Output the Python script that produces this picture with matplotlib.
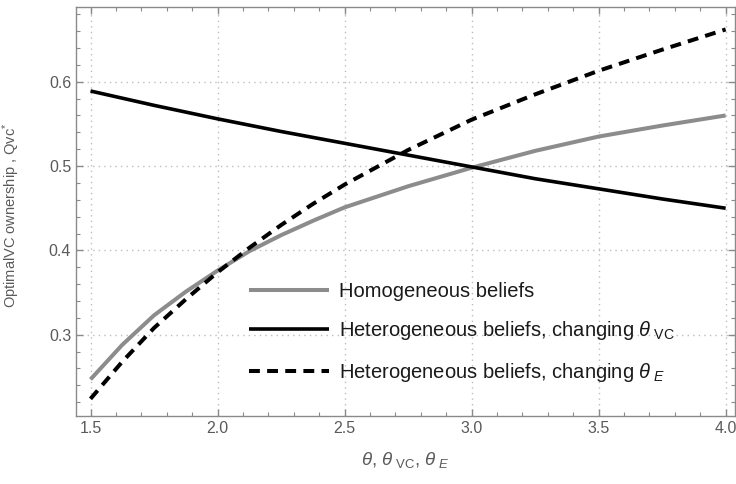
import numpy as np
import matplotlib
matplotlib.use('Agg')
import matplotlib.pyplot as plt
from matplotlib.ticker import MultipleLocator, FormatStrFormatter

plt.rcParams['font.family'] = ['Liberation Sans', 'DejaVu Sans']
plt.rcParams['mathtext.fontset'] = 'custom'
plt.rcParams['mathtext.rm'] = 'Liberation Sans'
plt.rcParams['mathtext.it'] = 'Liberation Sans:italic'

# values
theta_fine = [1.5, 1.625, 1.75, 1.875, 2.0, 2.125, 2.25, 2.375, 2.5,
              2.75, 3.0, 3.25, 3.5, 3.75, 4.0]
homog = [0.247, 0.288, 0.323, 0.351, 0.376, 0.399, 0.418, 0.435, 0.451,
         0.476, 0.498, 0.518, 0.535, 0.548, 0.560]
het_e = [0.224, 0.268, 0.308, 0.342, 0.374, 0.403, 0.430, 0.455, 0.478,
         0.519, 0.555, 0.585, 0.613, 0.638, 0.662]
theta = [1.5, 1.75, 2.0, 2.25, 2.5, 2.75, 3.0, 3.25, 3.5, 3.75, 4.0]
het_vc = [0.589, 0.572, 0.556, 0.541, 0.527, 0.513, 0.499, 0.485, 0.473, 0.461, 0.450]

labels = ['Homogeneous beliefs',
          r'Heterogeneous beliefs, changing $\mathit{\theta}_{\ \mathrm{VC}}$',
          r'Heterogeneous beliefs, changing $\mathit{\theta}_{\ E}$']

frame_col = '#8a8a8a'
text_col = '#5a5a5a'

fig = plt.figure(figsize=(7.36, 4.84), dpi=100)
ax = fig.add_axes([0.1033, 0.1405, 0.8954, 0.845])

l1, = ax.plot(theta_fine, homog, color='#8c8c8c', lw=2.9, solid_capstyle='butt')
l2, = ax.plot(theta, het_vc, color='black', lw=2.6, solid_capstyle='butt')
l3, = ax.plot(theta_fine, het_e, color='black', lw=2.9, dashes=(2.7, 1.8))

ax.set_xlim(1.443, 4.037)
ax.set_ylim(0.2036, 0.6886)
ax.xaxis.set_major_locator(MultipleLocator(0.5))
ax.xaxis.set_minor_locator(MultipleLocator(0.1))
ax.yaxis.set_major_locator(MultipleLocator(0.1))
ax.yaxis.set_minor_locator(MultipleLocator(0.02))
ax.xaxis.set_major_formatter(FormatStrFormatter('%.1f'))
ax.yaxis.set_major_formatter(FormatStrFormatter('%.1f'))

ax.grid(True, which='major', color='#bdbdbd', lw=1.0, ls=(0, (1, 3)))
ax.tick_params(which='both', direction='in', top=True, right=True, color=frame_col,
               labelcolor=text_col, labelsize=11.5)
ax.tick_params(which='major', length=5, width=1)
ax.tick_params(which='minor', length=3, width=0.8)
for s in ax.spines.values():
    s.set_color(frame_col)
    s.set_linewidth(1.0)

ax.set_xlabel(r'$\mathit{\theta}$, $\mathit{\theta}_{\ \mathrm{VC}}$, $\mathit{\theta}_{\ E}$',
              color=text_col, fontsize=13.5, labelpad=10)
ax.set_ylabel(r'OptimalVC ownership , Qvc$^{*}$', color=text_col, fontsize=10.5)
ax.yaxis.set_label_coords(-0.082, 0.49)

ax.legend([l1, l2, l3], labels, loc='center left', bbox_to_anchor=(0.2625, 0.203),
          frameon=False, fontsize=14.5, handlelength=3.98, handletextpad=0.5,
          labelspacing=0.9, borderpad=0, borderaxespad=0, labelcolor='#1a1a1a')

plt.savefig('out.png', dpi=100)
